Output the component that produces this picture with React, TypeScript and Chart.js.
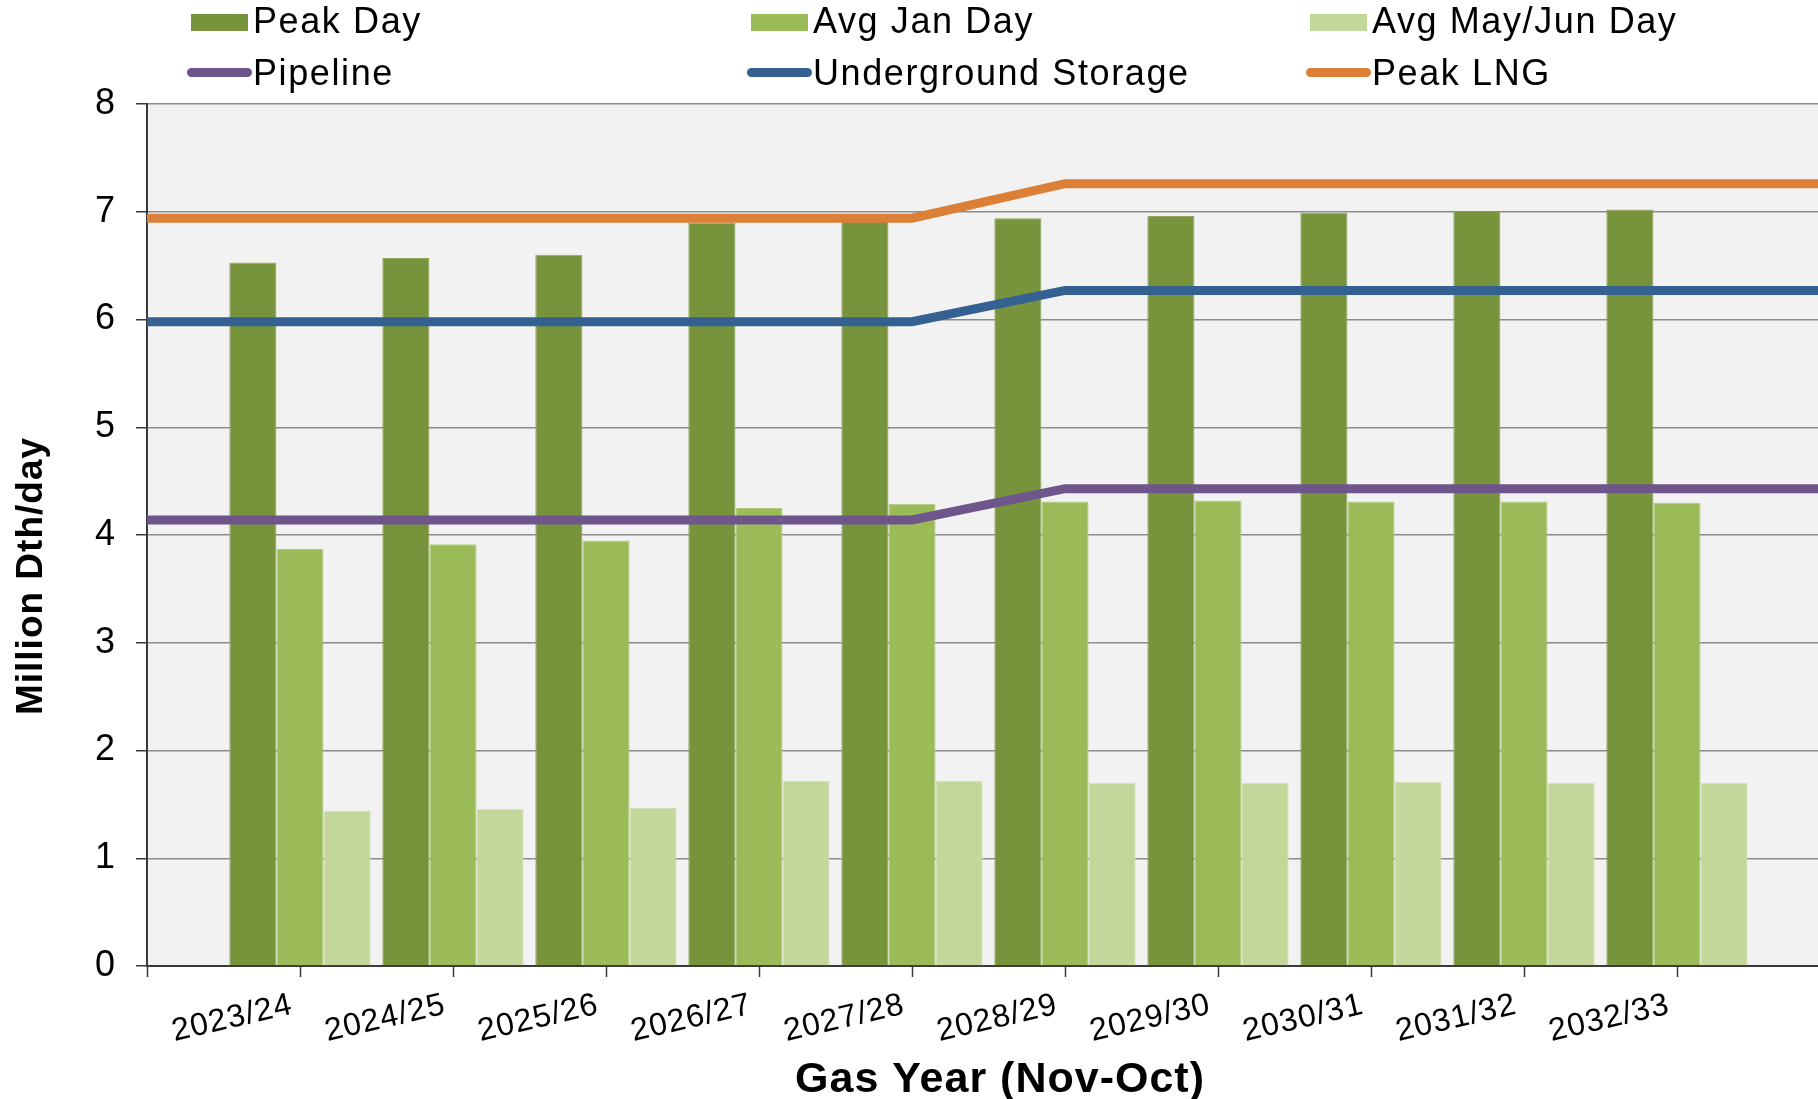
import React, { useEffect, useRef } from 'react';
import { Chart, registerables } from 'chart.js';

Chart.register(...registerables);

// ---------- data ----------
const CATEGORIES = ['2023/24', '2024/25', '2025/26', '2026/27', '2027/28', '2028/29', '2029/30', '2030/31', '2031/32', '2032/33'];
const PEAK_DAY = [6.53, 6.57, 6.6, 6.9, 6.92, 6.94, 6.96, 6.99, 7.01, 7.02];
const AVG_JAN_DAY = [3.87, 3.915, 3.95, 4.25, 4.29, 4.31, 4.32, 4.31, 4.31, 4.3];
const AVG_MAY_JUN_DAY = [1.44, 1.46, 1.47, 1.72, 1.72, 1.7, 1.7, 1.71, 1.7, 1.7];
// supply lines, one value per category boundary (0 = left edge of the plot)
const PIPELINE = [4.14, 4.14, 4.14, 4.14, 4.14, 4.14, 4.43, 4.43, 4.43, 4.43, 4.43, 4.43];
const UNDERGROUND_STORAGE = [5.98, 5.98, 5.98, 5.98, 5.98, 5.98, 6.27, 6.27, 6.27, 6.27, 6.27, 6.27];
const PEAK_LNG = [6.94, 6.94, 6.94, 6.94, 6.94, 6.94, 7.26, 7.26, 7.26, 7.26, 7.26, 7.26];
const Y_MIN = 0;
const Y_MAX = 8;
const Y_STEP = 1;

// ---------- style ----------
const FONT = '"Liberation Sans", Arial, Helvetica, sans-serif';
const C_PEAK = '#77933c';
const C_JAN = '#9bbb59';
const C_MAY = '#c4d79b';
const C_PIPE = '#6e558c';
const C_UGS = '#356092';
const C_LNG = '#dc8037';

const W = 1818;
const H = 1099;
const PLOT_LEFT = 147;
const PLOT_TOP = 104;
const X_AXIS_HEIGHT = 133;
const X_UNIT_PX = 153;
const X_MAX = (W - PLOT_LEFT) / X_UNIT_PX;
const Y_TITLE_CENTER = 576;
const X_TITLE_CENTER = 1000;

const LEGEND_ROWS = [
  [
    { label: 'Peak Day', color: C_PEAK, kind: 'box', x: 191 },
    { label: 'Avg Jan Day', color: C_JAN, kind: 'box', x: 751 },
    { label: 'Avg May/Jun Day', color: C_MAY, kind: 'box', x: 1310 },
  ],
  [
    { label: 'Pipeline', color: C_PIPE, kind: 'line', x: 191 },
    { label: 'Underground Storage', color: C_UGS, kind: 'line', x: 751 },
    { label: 'Peak LNG', color: C_LNG, kind: 'line', x: 1310 },
  ],
];

const setSpacing = (c: any) => {
  try {
    c.ctx.letterSpacing = '1px';
  } catch (e) {
    /* ignore */
  }
};

const stylePlugin = {
  id: 'stylePlugin',
  beforeUpdate: setSpacing,
  beforeLayout: setSpacing,
  afterLayout(c: any) {
    const ys = c.scales.y;
    const xs = c.scales.x;
    if (ys && !ys.__titlePatched) {
      const orig = ys.drawTitle;
      ys.drawTitle = function (...args: any[]) {
        const t = this.top;
        this.top = 2 * Y_TITLE_CENTER - this.bottom;
        orig.apply(this, args);
        this.top = t;
      };
      ys.__titlePatched = true;
    }
    if (xs && !xs.__titlePatched) {
      const orig = xs.drawTitle;
      xs.drawTitle = function (...args: any[]) {
        const l = this.left;
        this.left = 2 * X_TITLE_CENTER - this.right;
        orig.apply(this, args);
        this.left = l;
      };
      xs.__titlePatched = true;
    }
  },
  beforeDraw(c: any) {
    setSpacing(c);
    const { ctx, chartArea } = c;
    ctx.save();
    ctx.fillStyle = '#f2f2f2';
    ctx.fillRect(chartArea.left, chartArea.top, chartArea.right - chartArea.left, chartArea.bottom - chartArea.top);
    ctx.restore();
  },
};

function barData(values: number[]) {
  return values.map((v, i) => ({ x: i + 1, y: v }));
}
function lineData(values: number[]) {
  return values.map((v, i) => ({ x: i, y: v }));
}

export default function App() {
  const ref = useRef<HTMLCanvasElement>(null);

  useEffect(() => {
    const canvas = ref.current;
    if (!canvas) return;
    const lineDs = (label: string, values: number[], color: string) => ({
      type: 'line' as const,
      label,
      data: lineData(values),
      borderColor: color,
      backgroundColor: color,
      borderWidth: 9,
      pointRadius: 0,
      pointHoverRadius: 0,
      tension: 0,
      fill: false,
      borderJoinStyle: 'miter' as const,
      order: 0,
    });
    const barDs = (label: string, values: number[], color: string, border: string) => ({
      type: 'bar' as const,
      label,
      data: barData(values),
      backgroundColor: color,
      borderColor: border,
      borderWidth: 1,
      categoryPercentage: 0.924,
      barPercentage: 1,
      order: 1,
    });

    const chart = new Chart(canvas, {
      type: 'bar',
      data: {
        datasets: [
          lineDs('Pipeline', PIPELINE, C_PIPE),
          lineDs('Underground Storage', UNDERGROUND_STORAGE, C_UGS),
          lineDs('Peak LNG', PEAK_LNG, C_LNG),
          barDs('Peak Day', PEAK_DAY, C_PEAK, '#8ea65e'),
          barDs('Avg Jan Day', AVG_JAN_DAY, C_JAN, '#b1cb7e'),
          barDs('Avg May/Jun Day', AVG_MAY_JUN_DAY, C_MAY, '#d5e3b6'),
        ] as any,
      },
      options: {
        responsive: false,
        maintainAspectRatio: false,
        animation: false,
        devicePixelRatio: 1,
        layout: { padding: { top: PLOT_TOP, left: 0, right: 0, bottom: 0 } },
        plugins: {
          legend: { display: false },
          tooltip: { enabled: false },
        },
        scales: {
          x: {
            type: 'linear',
            min: 0,
            max: X_MAX,
            offset: false,
            afterFit: (s: any) => {
              s.height = X_AXIS_HEIGHT;
              s.paddingLeft = 0;
              s.paddingRight = 0;
            },
            grid: {
              offset: false,
              drawOnChartArea: false,
              drawTicks: true,
              tickLength: 11,
              tickColor: '#3a3a3a',
              tickWidth: 1.5,
            },
            border: { display: true, color: '#3a3a3a', width: 2 },
            ticks: {
              stepSize: 1,
              includeBounds: false,
              autoSkip: false,
              minRotation: 13,
              maxRotation: 13,
              padding: 9,
              labelOffset: -8,
              color: '#000',
              font: { family: FONT, size: 32 },
              callback: (v: any) => {
                const n = Number(v);
                return Number.isInteger(n) && n >= 1 && n <= CATEGORIES.length ? CATEGORIES[n - 1] : '';
              },
            },
            title: {
              display: true,
              text: 'Gas Year (Nov-Oct)',
              color: '#000',
              font: { family: FONT, size: 43, weight: 'bold', lineHeight: 0.9 },
              padding: { top: 0, bottom: 0 },
            },
          },
          y: {
            type: 'linear',
            min: Y_MIN,
            max: Y_MAX,
            afterFit: (s: any) => {
              s.width = PLOT_LEFT;
            },
            grid: {
              color: '#8c8c8c',
              lineWidth: 1.5,
              drawTicks: true,
              tickLength: 11,
              tickColor: '#3a3a3a',
              tickWidth: 1.5,
            },
            border: { display: true, color: '#3a3a3a', width: 2 },
            ticks: {
              stepSize: Y_STEP,
              padding: 20,
              color: '#000',
              font: { family: FONT, size: 36 },
            },
            title: {
              display: true,
              text: 'Million Dth/day',
              color: '#000',
              font: { family: FONT, size: 37, weight: 'bold', lineHeight: 1.2 },
              padding: { top: 10, bottom: 0 },
            },
          },
        },
      } as any,
      plugins: [stylePlugin],
    });
    return () => chart.destroy();
  }, []);

  return (
    <div
      style={{
        position: 'fixed',
        left: 0,
        top: 0,
        width: W,
        height: H,
        overflow: 'hidden',
        background: '#ffffff',
      }}
    >
      <canvas ref={ref} width={W} height={H} style={{ display: 'block' }} />
      {LEGEND_ROWS.map((row, ri) =>
        row.map((item) => (
          <div key={item.label}>
            {item.kind === 'box' ? (
              <div
                style={{
                  position: 'absolute',
                  left: item.x,
                  top: 14,
                  width: 57,
                  height: 17,
                  background: item.color,
                }}
              />
            ) : (
              <div
                style={{
                  position: 'absolute',
                  left: item.x - 4,
                  top: 68,
                  width: 65,
                  height: 9,
                  borderRadius: 4.5,
                  background: item.color,
                }}
              />
            )}
            <div
              style={{
                position: 'absolute',
                left: item.x + 62,
                top: ri === 0 ? 3 : 55,
                fontFamily: FONT,
                fontSize: 36,
                lineHeight: '36px',
                letterSpacing: '1.6px',
                color: '#000',
                whiteSpace: 'nowrap',
              }}
            >
              {item.label}
            </div>
          </div>
        ))
      )}
    </div>
  );
}
